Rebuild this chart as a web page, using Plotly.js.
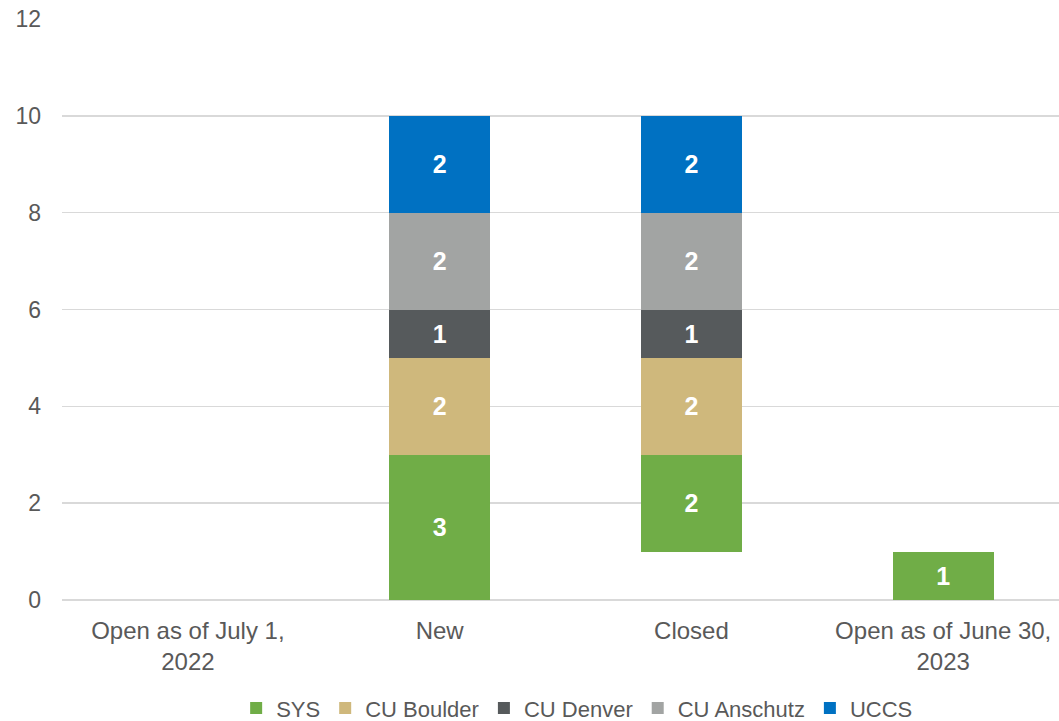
<!DOCTYPE html>
<html><head><meta charset="utf-8">
<script src="https://cdn.plot.ly/plotly-3.0.1.min.js"></script>
<style>html,body{margin:0;padding:0;background:#fff}#c{width:1059px;height:721px}</style>
</head><body><div id="c"></div>
<script>
const categories = ["Open as of July 1,<br>2022", "New", "Closed", "Open as of June 30,<br>2023"];
const baseOffset = [0, 0, 1, 0];
const sys = [0, 3, 2, 1];
const cuBoulder = [0, 2, 2, 0];
const cuDenver = [0, 1, 1, 0];
const cuAnschutz = [0, 2, 2, 0];
const uccs = [0, 2, 2, 0];
const yTicks = [0, 2, 4, 6, 8, 10, 12];

const series = [
  {name: "SYS", values: sys, color: "#70AD47"},
  {name: "CU Boulder", values: cuBoulder, color: "#CFB87C"},
  {name: "CU Denver", values: cuDenver, color: "#565A5C"},
  {name: "CU Anschutz", values: cuAnschutz, color: "#A2A4A3"},
  {name: "UCCS", values: uccs, color: "#0071C2"}
];

const traces = [{
  type: "bar", x: categories, y: baseOffset, width: 0.4,
  marker: {color: "rgba(0,0,0,0)"}, showlegend: false, hoverinfo: "skip", name: "base"
}];
series.forEach(s => {
  traces.push({
    type: "bar", x: categories, y: s.values, name: s.name, width: 0.4,
    marker: {color: s.color, line: {width: 0}},
    text: s.values.map(v => v ? String(v) : ""),
    textposition: "inside", insidetextanchor: "middle",
    textfont: {color: "#ffffff", size: 25, family: "Liberation Sans, Arial, sans-serif", weight: "bold"},
    constraintext: "none"
  });
});

const layout = {
  width: 1059, height: 721,
  margin: {l: 62, r: 0, t: 19, b: 121, autoexpand: false},
  barmode: "stack",
  paper_bgcolor: "#fff", plot_bgcolor: "#fff",
  font: {family: "Liberation Sans, Arial, sans-serif", color: "#595959", size: 24},
  xaxis: {range: [-0.5, 3.46], showgrid: false, showline: false, ticks: "", ticklabelstandoff: 14,
    tickfont: {size: 24, color: "#595959"}},
  yaxis: {range: [0, 12], tickvals: yTicks, showgrid: true, gridcolor: "#D9D9D9", gridwidth: 1.5,
    zeroline: true, zerolinecolor: "#D9D9D9", zerolinewidth: 1.5, ticks: "", ticklabelstandoff: 20,
    tickfont: {size: 23, color: "#595959"}},
  legend: {orientation: "h", x: 0.545, xanchor: "center", xref: "container", yref: "container", y: 0.047, yanchor: "top",
    font: {size: 22, color: "#595959"}, itemwidth: 30, traceorder: "normal"},
  showlegend: true
};
Plotly.newPlot("c", traces, layout, {displayModeBar: false, staticPlot: true});
</script></body></html>
